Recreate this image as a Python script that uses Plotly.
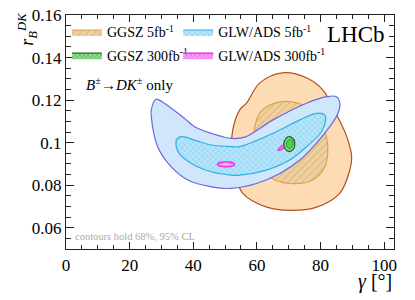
import plotly.graph_objects as go

# ---- data ----
# GGSZ 5 fb^-1 : 95% (outer) and 68% (inner) contours
ggsz5_95_x = [68.1, 75.7, 80.7, 85.1, 88.3, 89.8, 89.2, 86.1, 78.8, 70.3, 63.1, 55.5, 53.3, 52.0, 52.4, 54.6, 56.8, 60.9, 68.1]
ggsz5_95_y = [0.1328, 0.1304, 0.1248, 0.1130, 0.1026, 0.0932, 0.0871, 0.0763, 0.0697, 0.0682, 0.0697, 0.0763, 0.0847, 0.0965, 0.1059, 0.1154, 0.1187, 0.1281, 0.1328]
ggsz5_68_x = [68.1, 72.5, 75.7, 79.1, 81.3, 82.3, 81.3, 77.6, 70.3, 64.0, 60.2, 59.0, 59.3, 60.9, 64.0, 68.1]
ggsz5_68_y = [0.1193, 0.1187, 0.1168, 0.1130, 0.1059, 0.0965, 0.0885, 0.0824, 0.0808, 0.0838, 0.0918, 0.1012, 0.1074, 0.1139, 0.1177, 0.1193]

# GLW/ADS 5 fb^-1
glw5_95_x = [28.3, 30.9, 33.1, 37.2, 40.4, 45.7, 52.0, 56.2, 65.1, 75.6, 81.9, 85.0, 86.1, 85.5, 82.9, 78.7, 73.5, 67.2, 59.9, 52.0, 45.7, 38.3, 33.1, 28.8, 26.8, 26.8, 28.3]
glw5_95_y = [0.1204, 0.1185, 0.1162, 0.1115, 0.1075, 0.1044, 0.1020, 0.1026, 0.1107, 0.1185, 0.1216, 0.1216, 0.1185, 0.1138, 0.1075, 0.0997, 0.0918, 0.0855, 0.0808, 0.0785, 0.0792, 0.0824, 0.0886, 0.0981, 0.1122, 0.1154, 0.1204]
glw5_68_x = [36.2, 40.4, 45.7, 52.0, 54.6, 65.1, 73.5, 78.7, 81.3, 81.6, 80.3, 75.6, 70.3, 63.0, 54.6, 52.0, 45.7, 39.4, 35.2, 34.7, 36.2]
glw5_68_y = [0.1028, 0.1012, 0.0989, 0.0981, 0.0981, 0.1044, 0.1107, 0.1138, 0.1130, 0.1107, 0.1051, 0.0981, 0.0918, 0.0871, 0.0847, 0.0847, 0.0863, 0.0902, 0.0957, 0.1012, 0.1028]

# GGSZ 300 fb^-1
ggsz300_95_x = [71.95, 71.4, 70.2, 69.0, 68.45, 69.0, 70.2, 71.4, 71.95]
ggsz300_95_y = [0.0993, 0.1018, 0.1028, 0.1018, 0.0993, 0.0968, 0.0958, 0.0968, 0.0993]
ggsz300_68_x = [71.4, 71.1, 70.35, 69.6, 69.3, 69.6, 70.35, 71.1, 71.4]
ggsz300_68_y = [0.0994, 0.1009, 0.1015, 0.1009, 0.0994, 0.0979, 0.0973, 0.0979, 0.0994]

# GLW/ADS 300 fb^-1 (two islands)
glw300a_95_x = [53.05, 52.25, 50.3, 48.35, 47.55, 48.35, 50.3, 52.25, 53.05]
glw300a_95_y = [0.0898, 0.0907, 0.0910, 0.0907, 0.0898, 0.0889, 0.0886, 0.0889, 0.0898]
glw300a_68_x = [51.9, 51.4, 50.3, 49.2, 48.7, 49.2, 50.3, 51.4, 51.9]
glw300a_68_y = [0.0898, 0.0903, 0.0905, 0.0903, 0.0898, 0.0893, 0.0891, 0.0893, 0.0898]
glw300b_95_x = [66.6, 68.4, 70.4, 72.0, 71.2, 69.2, 67.2, 66.6]
glw300b_95_y = [0.0963, 0.0972, 0.0990, 0.1013, 0.1010, 0.0996, 0.0978, 0.0963]

x_ticks = [0, 20, 40, 60, 80, 100]
y_ticks = [0.06, 0.08, 0.1, 0.12, 0.14, 0.16]
y_ticklabels = ["0.06", "0.08", "0.1", "0.12", "0.14", "0.16"]

SERIF = "Liberation Serif"

fig = go.Figure()

def contour(x, y, fill, line, width=1.2, pattern=None, name=None, legend=None, show=False):
    kw = dict(x=x, y=y, mode="lines", fill="toself", fillcolor=fill,
              line=dict(color=line, width=width, shape="spline", smoothing=1.0),
              hoverinfo="skip", showlegend=show)
    if pattern is not None:
        kw["fillpattern"] = pattern
    if name is not None:
        kw["name"] = name
    if legend is not None:
        kw["legend"] = legend
        kw["legendgroup"] = name
    fig.add_trace(go.Scatter(**kw))

# GGSZ 5 fb-1
contour(ggsz5_95_x, ggsz5_95_y, "#fddcb5", "#b4501c")
contour(ggsz5_68_x, ggsz5_68_y, "#e8c48e", "#d9a44c",
        pattern=dict(shape="/", fgcolor="#d3a45c", bgcolor="#efd0a0", size=5, solidity=0.25),
        name="GGSZ 5fb<sup>-1</sup>", legend="legend", show=True)
# GLW/ADS 5 fb-1
contour(glw5_95_x, glw5_95_y, "#cfe6fb", "#6a68e0")
contour(glw5_68_x, glw5_68_y, "#a8dcf7", "#2ab0e8",
        pattern=dict(shape="x", fgcolor="#68c4f0", bgcolor="#b8e4fa", size=4, solidity=0.35),
        name="GLW/ADS 5fb<sup>-1</sup>", legend="legend2", show=True)
# GLW/ADS 300 fb-1
contour(glw300a_95_x, glw300a_95_y, "#f070f0", "#e020d8", width=1.2,
        pattern=dict(shape="x", fgcolor="#e040e0", bgcolor="#f5a0f5", size=3, solidity=0.4),
        name="GLW/ADS 300fb<sup>-1</sup>", legend="legend2", show=True)
contour(glw300a_68_x, glw300a_68_y, "#f8b8f8", "#f070f0", width=0.8)
contour(glw300b_95_x, glw300b_95_y, "#f070f0", "#e020d8", width=1.0)
# GGSZ 300 fb-1
contour(ggsz300_95_x, ggsz300_95_y, "#3c9e3c", "#1c6a1c", width=1.2,
        pattern=dict(shape="x", fgcolor="#2a8a2a", bgcolor="#8ee08e", size=3, solidity=0.4),
        name="GGSZ 300fb<sup>-1</sup>", legend="legend", show=True)
contour(ggsz300_68_x, ggsz300_68_y, "#50d050", "#2a8a2a", width=0.8)

axis_common = dict(showgrid=False, zeroline=False, showline=True, linecolor="#222",
                   linewidth=1.3, mirror="allticks", ticks="inside", automargin=False,
                   ticklabeloverflow="allow",
                   tickcolor="#222", tickwidth=1,
                   tickfont=dict(family=SERIF, size=17, color="black"))

fig.update_xaxes(range=[0, 103.1], tickvals=x_ticks, ticklen=7,
                 minor=dict(dtick=5, tick0=0, ticks="inside", ticklen=4, tickcolor="#222"),
                 **axis_common)
fig.update_yaxes(range=[0.05, 0.16], tickvals=y_ticks, ticktext=y_ticklabels, ticklen=8,
                 minor=dict(dtick=0.005, tick0=0.05, ticks="inside", ticklen=5, tickcolor="#222"),
                 **axis_common)

leg_common = dict(bgcolor="rgba(0,0,0,0)", borderwidth=0,
                  font=dict(family=SERIF, size=14, color="black"),
                  xanchor="left", yanchor="top", tracegroupgap=2, itemwidth=30)
# the page body adds an 8 px offset, so margins are set to put the frame at
# the reference position (left 66, top 15, right 394, bottom 249)
fig.update_layout(
    width=415, height=300,
    margin=dict(l=58, r=29, t=7, b=59, autoexpand=False),
    paper_bgcolor="white", plot_bgcolor="white",
    legend=dict(x=0.003, y=0.994, **leg_common),
    legend2=dict(x=0.342, y=0.994, **leg_common),
    annotations=[
        dict(text="LHCb", xref="paper", yref="paper", x=0.979, y=0.915,
             xanchor="right", yanchor="middle", showarrow=False,
             font=dict(family=SERIF, size=23, color="black")),
        dict(text="<i>B</i><sup>±</sup>→<i>DK</i><sup>±</sup> only", xref="paper", yref="paper",
             x=0.055, y=0.705, xanchor="left", yanchor="middle", showarrow=False,
             font=dict(family=SERIF, size=15, color="black")),
        dict(text="contours hold 68%, 95% CL", xref="paper", yref="paper",
             x=0.022, y=0.054, xanchor="left", yanchor="middle", showarrow=False,
             font=dict(family=SERIF, size=10.5, color="#aaaaaa")),
        dict(text="<i>γ</i> [°]", xref="paper", yref="paper",
             x=1.0, y=-0.137, xanchor="right", yanchor="middle", showarrow=False,
             font=dict(family=SERIF, size=20, color="black")),
        dict(text="<i>r</i><sub><i>B</i></sub><sup><i>DK</i></sup>", xref="paper", yref="paper",
             x=-0.12, y=0.94, xanchor="center", yanchor="middle", showarrow=False,
             textangle=-90,
             font=dict(family=SERIF, size=18, color="black")),
    ],
)

fig.write_html("out.html")
